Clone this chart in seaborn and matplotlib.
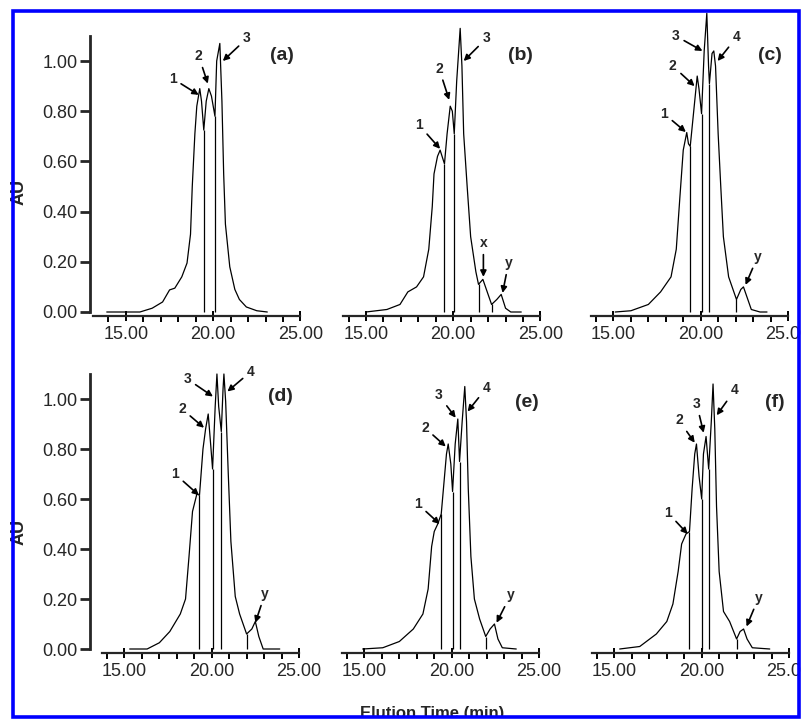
import numpy as np
import pandas as pd
import matplotlib
matplotlib.use('Agg')
import matplotlib.pyplot as plt
import seaborn as sns
from matplotlib.patches import Rectangle
from matplotlib.ticker import MultipleLocator

# traces (elution time in min, absorbance in AU)
a_time = [13.9, 15.8, 16.5, 17.1, 17.5, 17.8, 18.2, 18.5, 18.7, 18.8, 18.95, 19.06, 19.23, 19.33, 19.46,
          19.6, 19.75, 19.9, 20.1, 20.2, 20.38, 20.5, 20.6, 20.7, 20.95, 21.24, 21.5, 21.9, 22.5, 23.1]
a_au = [0.0, 0.0, 0.015, 0.04, 0.088, 0.095, 0.14, 0.195, 0.31, 0.50, 0.71, 0.82, 0.89, 0.84, 0.725,
        0.84, 0.89, 0.86, 0.78, 1.0, 1.07, 0.84, 0.55, 0.35, 0.18, 0.09, 0.05, 0.02, 0.005, 0.0]

b_time = [15.0, 16.2, 16.95, 17.4, 17.9, 18.3, 18.6, 18.8, 18.9, 19.1, 19.25, 19.5, 19.65, 19.83, 19.95,
          20.06, 20.2, 20.4, 20.5, 20.6, 20.8, 21.0, 21.3, 21.45, 21.7, 21.95, 22.2, 22.5, 22.75, 23.0,
          23.3, 23.9]
b_au = [0.0, 0.01, 0.03, 0.08, 0.10, 0.14, 0.25, 0.42, 0.55, 0.62, 0.645, 0.59, 0.71, 0.82, 0.80,
        0.71, 0.92, 1.13, 0.98, 0.71, 0.50, 0.30, 0.16, 0.11, 0.13, 0.08, 0.03, 0.05, 0.07, 0.015,
        0.0, 0.0]

c_time = [15.1, 16.0, 17.0, 17.7, 18.3, 18.6, 18.8, 19.0, 19.2, 19.3, 19.4, 19.6, 19.8, 19.9, 20.05,
          20.2, 20.35, 20.45, 20.5, 20.65, 20.75, 20.85, 21.0, 21.15, 21.3, 21.6, 22.05, 22.3, 22.45,
          22.7, 22.9, 23.4, 23.8]
c_au = [0.0, 0.005, 0.03, 0.08, 0.14, 0.25, 0.45, 0.645, 0.715, 0.67, 0.66, 0.80, 0.94, 0.89, 0.79,
        1.04, 1.19, 0.98, 0.91, 1.03, 1.04, 0.98, 0.71, 0.50, 0.30, 0.14, 0.05, 0.09, 0.10,
        0.05, 0.01, 0.0, 0.0]

d_time = [15.3, 16.3, 17.0, 17.6, 18.2, 18.5, 18.7, 18.9, 19.15, 19.3, 19.5, 19.65, 19.8, 19.95, 20.05,
          20.2, 20.3, 20.4, 20.55, 20.65, 20.7, 20.8, 20.95, 21.1, 21.35, 21.6, 22.0, 22.3, 22.5,
          22.7, 22.95, 23.3, 23.9]
d_au = [0.0, 0.0, 0.025, 0.07, 0.14, 0.20, 0.37, 0.55, 0.62, 0.615, 0.80, 0.88, 0.94, 0.81, 0.72,
        0.97, 1.10, 0.97, 0.87, 1.04, 1.10, 0.99, 0.70, 0.43, 0.21, 0.14, 0.06, 0.08, 0.11,
        0.05, 0.0, 0.0, 0.0]

e_time = [14.9, 16.05, 17.0, 17.8, 18.35, 18.65, 18.85, 19.0, 19.2, 19.4, 19.55, 19.7, 19.8, 19.95,
          20.05, 20.2, 20.35, 20.45, 20.6, 20.75, 20.85, 20.95, 21.1, 21.3, 21.6, 21.95, 22.2, 22.45,
          22.65, 22.9, 23.7]
e_au = [0.0, 0.005, 0.03, 0.08, 0.14, 0.24, 0.41, 0.47, 0.50, 0.54, 0.66, 0.78, 0.82, 0.74,
        0.63, 0.82, 0.92, 0.75, 0.91, 1.05, 0.91, 0.64, 0.37, 0.20, 0.12, 0.05, 0.08, 0.10,
        0.04, 0.005, 0.0]

f_time = [15.3, 16.45, 17.4, 18.0, 18.35, 18.65, 18.85, 19.1, 19.3, 19.45, 19.6, 19.7, 19.85, 20.0,
          20.1, 20.25, 20.4, 20.55, 20.65, 20.75, 20.85, 21.0, 21.25, 21.6, 22.0, 22.2, 22.4, 22.6,
          22.9, 23.9]
f_au = [0.0, 0.01, 0.06, 0.11, 0.18, 0.31, 0.42, 0.46, 0.47, 0.64, 0.78, 0.82, 0.69, 0.60,
        0.78, 0.85, 0.72, 0.91, 1.06, 0.88, 0.57, 0.31, 0.15, 0.11, 0.04, 0.07, 0.08, 0.04,
        0.005, 0.0]

# integration drop lines (time, height)
a_drop_t = [19.46, 20.1]
a_drop_h = [0.725, 0.78]
b_drop_t = [19.5, 20.06, 21.45, 22.2]
b_drop_h = [0.59, 0.71, 0.11, 0.03]
c_drop_t = [19.4, 20.05, 20.5, 22.05]
c_drop_h = [0.66, 0.79, 0.91, 0.05]
d_drop_t = [19.3, 20.05, 20.55, 22.0]
d_drop_h = [0.615, 0.72, 0.87, 0.06]
e_drop_t = [19.4, 20.05, 20.45, 21.95]
e_drop_h = [0.54, 0.63, 0.75, 0.05]
f_drop_t = [19.3, 20.0, 20.4, 22.0]
f_drop_h = [0.47, 0.60, 0.72, 0.04]

# peak labels: text, label position, arrow tip
a_marks = ['1', '2', '3']
a_text_xy = [(17.68, 0.93), (19.17, 1.02), (21.93, 1.09)]
a_tip_xy = [(19.17, 0.865), (19.69, 0.91), (20.55, 1.0)]
b_marks = ['1', '2', '3', 'x', 'y']
b_text_xy = [(18.04, 0.745), (19.19, 0.97), (21.9, 1.09), (21.73, 0.275), (23.17, 0.195)]
b_tip_xy = [(19.25, 0.65), (19.77, 0.845), (20.6, 1.0), (21.73, 0.14), (22.83, 0.076)]
c_marks = ['1', '2', '3', '4', 'y']
c_text_xy = [(17.9, 0.79), (18.4, 0.98), (18.57, 1.10), (22.06, 1.095), (23.26, 0.22)]
c_tip_xy = [(19.15, 0.717), (19.65, 0.90), (20.1, 1.04), (20.97, 1.0), (22.57, 0.108)]
d_marks = ['1', '2', '3', '4', 'y']
d_text_xy = [(17.9, 0.70), (18.3, 0.96), (18.6, 1.08), (22.25, 1.11), (23.05, 0.22)]
d_tip_xy = [(19.27, 0.615), (19.56, 0.885), (20.07, 1.01), (20.9, 1.03), (22.5, 0.105)]
e_marks = ['1', '2', '3', '4', 'y']
e_text_xy = [(18.06, 0.58), (18.46, 0.885), (19.26, 1.015), (22.0, 1.045), (23.37, 0.215)]
e_tip_xy = [(19.31, 0.50), (19.66, 0.81), (20.23, 0.925), (20.91, 0.95), (22.57, 0.105)]
f_marks = ['1', '2', '3', '4', 'y']
f_text_xy = [(18.06, 0.545), (18.69, 0.915), (19.71, 0.98), (21.89, 1.035), (23.26, 0.205)]
f_tip_xy = [(19.2, 0.46), (19.6, 0.825), (20.11, 0.865), (20.86, 0.935), (22.57, 0.09)]

panel_names = ['(a)', '(b)', '(c)', '(d)', '(e)', '(f)']
name_xy = [(23.94, 1.02), (23.87, 1.02), (23.94, 1.02), (23.92, 1.01), (24.29, 0.985), (24.17, 0.985)]

sns.set_style('ticks')
plt.rcParams['font.family'] = ['Liberation Sans', 'DejaVu Sans']

W, H = 807, 719
fig = plt.figure(figsize=(W / 100, H / 100), dpi=100)

# pixel geometry of each panel: x of the 14 min tick, axis start, y of zero, px per AU
geom = [(108.5, 13.1, 312, 251), (348.5, 13.7, 312, 251), (596, 13.7, 312, 251),
        (107, 13.7, 649, 250), (347, 13.7, 649, 250), (597, 13.7, 649, 250)]
xscale = 17.45
ybot = -0.014
ytop = 1.10

traces = [(a_time, a_au), (b_time, b_au), (c_time, c_au), (d_time, d_au), (e_time, e_au), (f_time, f_au)]
drops = [(a_drop_t, a_drop_h), (b_drop_t, b_drop_h), (c_drop_t, c_drop_h),
         (d_drop_t, d_drop_h), (e_drop_t, e_drop_h), (f_drop_t, f_drop_h)]
marks = [(a_marks, a_text_xy, a_tip_xy), (b_marks, b_text_xy, b_tip_xy), (c_marks, c_text_xy, c_tip_xy),
         (d_marks, d_text_xy, d_tip_xy), (e_marks, e_text_xy, e_tip_xy), (f_marks, f_text_xy, f_tip_xy)]

for i in range(6):
    x14, xstart, y0, ys = geom[i]
    left = x14 - (14 - xstart) * xscale
    width = (25 - xstart) * xscale
    top = y0 - ytop * ys
    bottom = y0 - ybot * ys
    ax = fig.add_axes([left / W, 1 - bottom / H, width / W, (bottom - top) / H])

    df = pd.DataFrame({'time': traces[i][0], 'au': traces[i][1]})
    sns.lineplot(data=df, x='time', y='au', ax=ax, color='black', lw=0.9,
                 estimator=None, sort=False)
    for ln in ax.lines:
        ln.set_clip_on(False)
    ax.vlines(drops[i][0], 0, drops[i][1], color='black', lw=0.9, clip_on=False)

    for lab, txy, tip in zip(*marks[i]):
        ax.annotate(lab, xy=tip, xytext=txy, ha='center', va='center',
                    fontsize=10, fontweight='bold', annotation_clip=False,
                    arrowprops=dict(arrowstyle='-|>', color='black', lw=1.2,
                                    mutation_scale=9, shrinkA=1, shrinkB=0))
    ax.text(name_xy[i][0], name_xy[i][1], panel_names[i], ha='center', va='center',
            fontsize=14, fontweight='bold')

    ax.set_xlim(xstart, 25)
    ax.set_ylim(ybot, ytop)
    ax.set_xlabel('')
    ax.set_ylabel('')
    ax.set_xticks([15, 20, 25])
    ax.set_xticklabels(['15.00', '20.00', '25.00'])
    ax.xaxis.set_minor_locator(MultipleLocator(1))
    ax.tick_params(axis='x', which='major', direction='inout', length=7, width=1.4,
                   labelsize=13, pad=4, color='black')
    ax.tick_params(axis='x', which='minor', direction='out', length=4, width=1.4, color='black')
    ax.spines['bottom'].set_linewidth(1.6)
    ax.spines['top'].set_visible(False)
    ax.spines['right'].set_visible(False)
    ax.set_facecolor('none')

    if i % 3 == 0:
        ax.spines['left'].set_position(('outward', (left - 90) * 0.72))
        ax.spines['left'].set_bounds(0, ytop)
        ax.spines['left'].set_linewidth(2)
        ax.set_yticks([0, 0.2, 0.4, 0.6, 0.8, 1.0])
        ax.set_yticklabels(['0.00', '0.20', '0.40', '0.60', '0.80', '1.00'])
        ax.tick_params(axis='y', length=7, width=2, labelsize=13, pad=2)
    else:
        ax.spines['left'].set_visible(False)
        ax.set_yticks([])

# axis titles
fig.text(19 / W, 1 - 192 / H, 'AU', rotation=90, ha='center', va='center',
         fontsize=13, fontweight='bold')
fig.text(19 / W, 1 - 532 / H, 'AU', rotation=90, ha='center', va='center',
         fontsize=13, fontweight='bold')
fig.text(432 / W, 1 - 718 / H, 'Elution Time (min)', ha='center', va='baseline',
         fontsize=12, fontweight='bold')

# cropped scan: white outside the blue frame
fig.add_artist(Rectangle((800.5 / W, 0), 10 / W, 1, transform=fig.transFigure,
                         fc='white', ec='none', zorder=20))
fig.add_artist(Rectangle((0, 0), 1, 1.5 / H, transform=fig.transFigure,
                         fc='white', ec='none', zorder=20))
fig.add_artist(Rectangle((13.5 / W, 1 - 716.5 / H), (799 - 13.5) / W, (716.5 - 11) / H,
                         transform=fig.transFigure, fill=False, ec='#0000ff', lw=2.6, zorder=21))

fig.savefig('out.png', dpi=100, facecolor='white')
